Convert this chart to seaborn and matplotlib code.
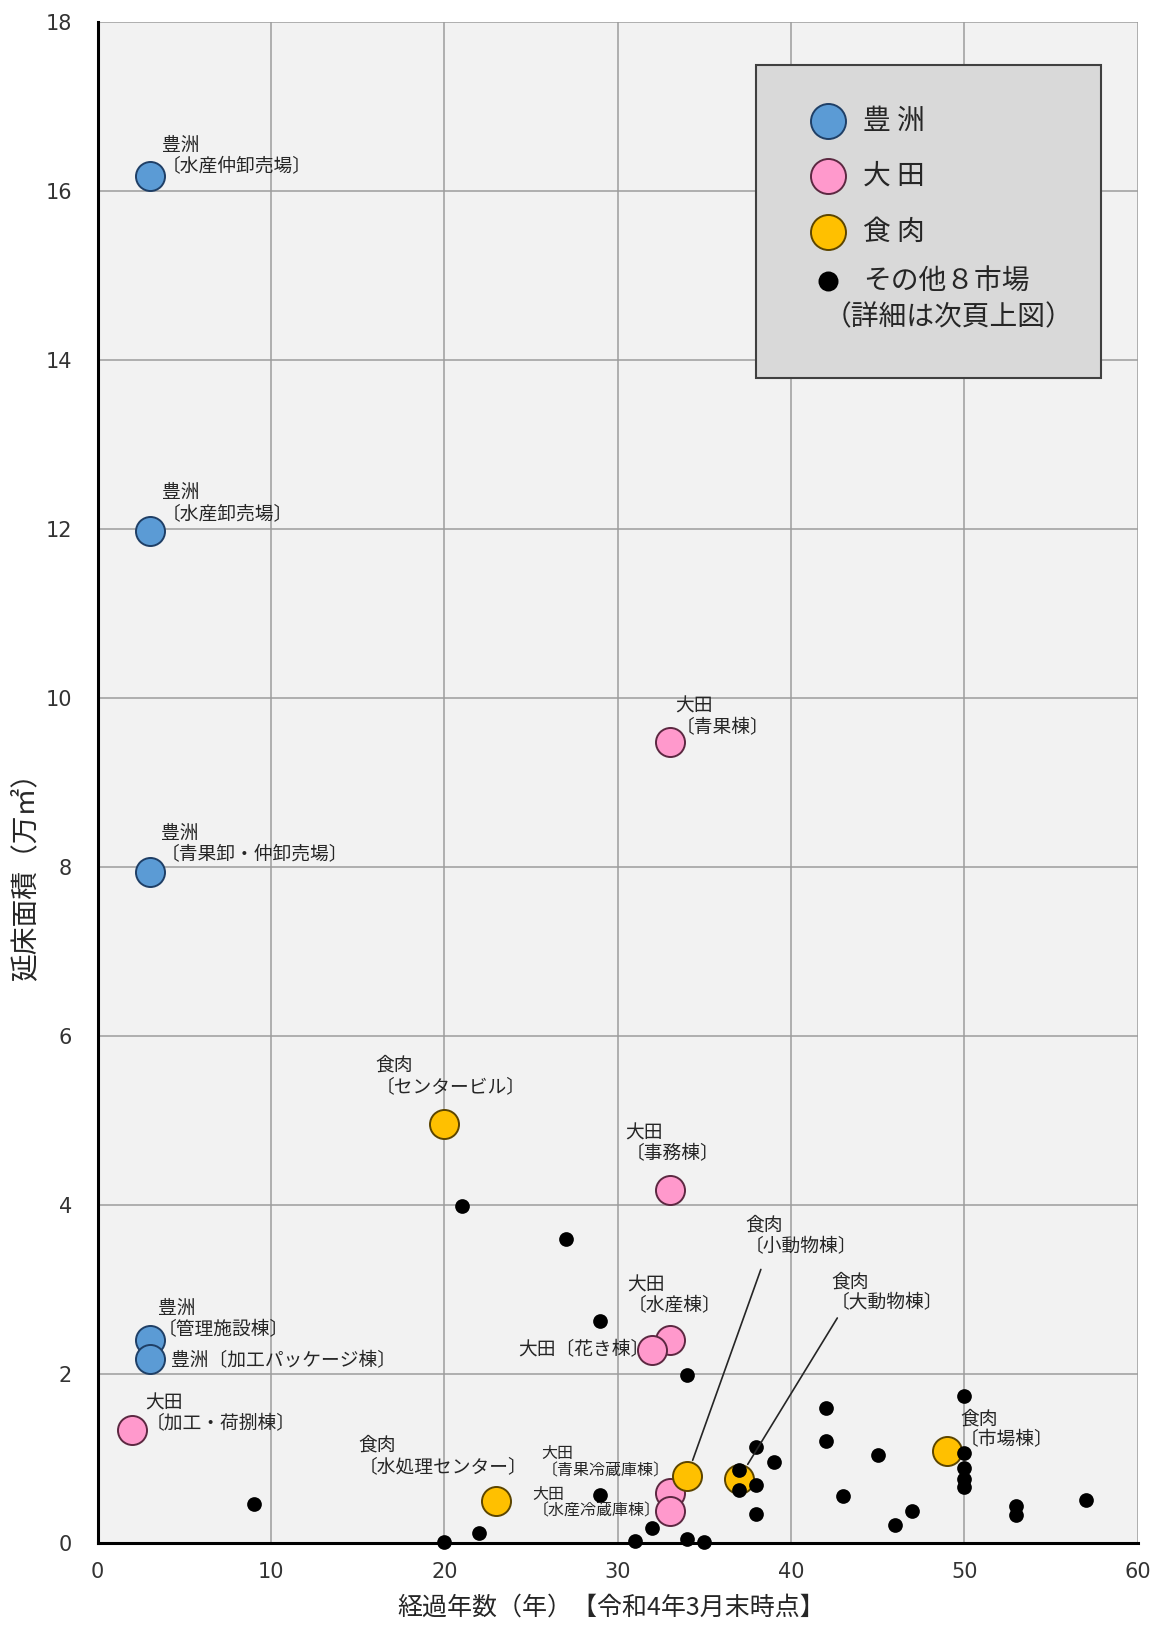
import matplotlib
matplotlib.use("Agg")
import matplotlib.pyplot as plt
import seaborn as sns
from matplotlib.patches import Rectangle

# 経過年数（年） / 延床面積（万㎡）
toyosu_age = [3, 3, 3, 3, 3]
toyosu_area = [16.17, 11.97, 7.94, 2.40, 2.18]
toyosu_names = ["豊洲\n〔水産仲卸売場〕", "豊洲\n〔水産卸売場〕", "豊洲\n〔青果卸・仲卸売場〕",
                "豊洲\n〔管理施設棟〕", "豊洲〔加工パッケージ棟〕"]

ota_age = [33, 33, 33, 32, 2, 33, 33]
ota_area = [9.48, 4.18, 2.40, 2.28, 1.34, 0.59, 0.38]
ota_names = ["大田\n〔青果棟〕", "大田\n〔事務棟〕", "大田\n〔水産棟〕", "大田〔花き棟〕",
             "大田\n〔加工・荷捌棟〕", "大田\n〔青果冷蔵庫棟〕", "大田\n〔水産冷蔵庫棟〕"]

meat_age = [20, 23, 34, 37, 49]
meat_area = [4.95, 0.49, 0.79, 0.76, 1.09]
meat_names = ["食肉\n〔センタービル〕", "食肉\n〔水処理センター〕", "食肉\n〔小動物棟〕",
              "食肉\n〔大動物棟〕", "食肉\n〔市場棟〕"]

other_age = [9, 20, 21, 22, 27, 29, 29, 31, 32, 34, 34, 35, 37, 37, 38, 38, 38, 39,
             42, 42, 43, 45, 46, 47, 50, 50, 50, 50, 50, 53, 53, 57]
other_area = [0.46, 0.01, 3.99, 0.11, 3.59, 2.62, 0.56, 0.02, 0.18, 1.98, 0.05, 0.01,
              0.86, 0.63, 1.13, 0.68, 0.34, 0.95, 1.60, 1.20, 0.55, 1.04, 0.21, 0.38,
              1.74, 1.06, 0.88, 0.76, 0.66, 0.43, 0.33, 0.50]

legend_labels = ["豊 洲", "大 田", "食 肉", "その他８市場"]
legend_note = "（詳細は次頁上図）"

# label offsets in pixels from the point (dx, dy up)
label_offsets = {
    "豊洲\n〔水産仲卸売場〕": (12, -1),
    "豊洲\n〔水産卸売場〕": (12, 7),
    "豊洲\n〔青果卸・仲卸売場〕": (11, 6.5),
    "豊洲\n〔管理施設棟〕": (8, 0),
    "豊洲〔加工パッケージ棟〕": (21, -2),
    "大田\n〔青果棟〕": (6, 4),
    "大田\n〔事務棟〕": (-44, 25.5),
    "大田\n〔水産棟〕": (-42, 23.5),
    "大田〔花き棟〕": (-3, 0),
    "大田\n〔加工・荷捌棟〕": (13, -5),
    "大田\n〔青果冷蔵庫棟〕": (-128, 13.5),
    "大田\n〔水産冷蔵庫棟〕": (-137, -9),
    "食肉\n〔センタービル〕": (-69, 27.5),
    "食肉\n〔水処理センター〕": (-138, 24.5),
    "食肉\n〔小動物棟〕": (58, 219),
    "食肉\n〔大動物棟〕": (92, 165),
    "食肉\n〔市場棟〕": (13, 0.5),
}
small_labels = {"大田\n〔青果冷蔵庫棟〕", "大田\n〔水産冷蔵庫棟〕"}
leader_lines = {"食肉\n〔小動物棟〕": (0.18, 7), "食肉\n〔大動物棟〕": (0.08, 1)}

sns.set_theme(style="whitegrid")
plt.rcParams['font.family'] = ['Noto Sans CJK JP', 'DejaVu Sans']

fig = plt.figure(figsize=(11.6, 16.26), dpi=100)
ax = fig.add_axes([0.0842, 0.0512, 0.8966, 0.9354])
ax.set_facecolor('#F2F2F2')

groups = [
    (toyosu_age, toyosu_area, toyosu_names, '#5B9BD5', '#1F3F66'),
    (ota_age, ota_area, ota_names, '#FF99CC', '#5C2841'),
    (meat_age, meat_area, meat_names, '#FFC000', '#5C4500'),
]
for xs, ys, names, fc, ec in groups:
    sns.scatterplot(x=xs, y=ys, s=437, color=fc, edgecolor=ec, linewidth=1.4,
                    ax=ax, zorder=3, clip_on=False, legend=False)
sns.scatterplot(x=other_age, y=other_area, s=112, color='black', edgecolor='black',
                linewidth=0, ax=ax, zorder=4, clip_on=False, legend=False)

text_color = '#262626'
for xs, ys, names, fc, ec in groups:
    for x, y, name in zip(xs, ys, names):
        dx, dy = label_offsets[name]
        va = 'bottom' if '\n' in name else 'center'
        ha = 'right' if name == "大田〔花き棟〕" else 'left'
        size = 11.5 if name in small_labels else 13.5
        kw = {}
        if name in leader_lines:
            rx, sa = leader_lines[name]
            kw['arrowprops'] = dict(arrowstyle='-', color=text_color, lw=1.2,
                                    relpos=(rx, 0), shrinkA=sa, shrinkB=12)
        ax.annotate(name, xy=(x, y), xytext=(dx, dy), textcoords='offset pixels',
                    ha=ha, va=va, fontsize=size, color=text_color,
                    linespacing=1.0, zorder=6, **kw)

ax.set_xlim(0, 60)
ax.set_ylim(0, 18)
ax.set_xticks(range(0, 61, 10))
ax.set_yticks(range(0, 19, 2))
ax.grid(True, color='#9C9C9C', lw=1.1)
ax.set_axisbelow(True)
for side in ['top', 'right']:
    ax.spines[side].set_visible(False)
for side in ['left', 'bottom']:
    ax.spines[side].set_color('black')
    ax.spines[side].set_linewidth(2.2)
ax.tick_params(axis='both', length=0, labelsize=15, labelcolor='#333333')
ax.tick_params(axis='y', pad=18.5)
ax.tick_params(axis='x', pad=14)
for lbl in ax.get_xticklabels() + ax.get_yticklabels():
    lbl.set_fontfamily('DejaVu Sans')

ax.set_xlabel("経過年数（年）【令和4年3月末時点】", fontsize=18, color='#262626')
ax.set_ylabel("延床面積（万㎡）", fontsize=20, color='#262626')
ax.xaxis.set_label_coords(0.494, -0.034)
ax.yaxis.set_label_coords(-0.0555, 0.4425)

# legend box
ax.add_patch(Rectangle((0.633, 0.7657), 0.332, 0.2058, transform=ax.transAxes,
                       facecolor='#D9D9D9', edgecolor='#404040', lw=1.5, zorder=7))
leg_y = [0.9349, 0.8986, 0.8619, 0.8295]
leg_styles = [('#5B9BD5', '#1F3F66', 635), ('#FF99CC', '#5C2841', 635),
              ('#FFC000', '#5C4500', 635), ('black', 'black', 169)]
for yy, label, (fc, ec, s) in zip(leg_y, legend_labels, leg_styles):
    ax.scatter([0.7025], [yy], s=s, color=fc, edgecolor=ec, linewidth=1.4,
               transform=ax.transAxes, zorder=8, clip_on=False)
    ax.text(0.7356, yy, label, transform=ax.transAxes, fontsize=20, va='center',
            ha='left', color='#262626', zorder=9)
ax.text(0.6985, 0.806, legend_note, transform=ax.transAxes, fontsize=20,
        va='center', ha='left', color='#262626', zorder=9)

fig.savefig("out.png", dpi=100, facecolor='white')
